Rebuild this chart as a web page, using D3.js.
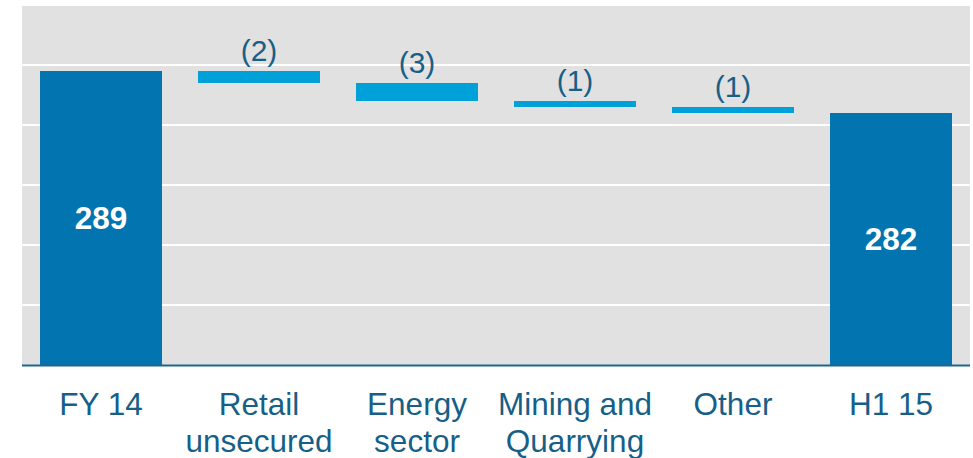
<!DOCTYPE html>
<html>
<head>
<meta charset="utf-8">
<script src="https://cdn.jsdelivr.net/npm/d3@7"></script>
<style>
  html, body { margin: 0; padding: 0; background: #fff; }
  svg { display: block; font-family: "Liberation Sans", Arial, sans-serif; }
</style>
</head>
<body>
<svg id="chart" width="973" height="458"></svg>
<script>
// ---- data ----
const categories = ["FY 14", "Retail\nunsecured", "Energy\nsector", "Mining and\nQuarrying", "Other", "H1 15"];
const kinds = ["total", "delta", "delta", "delta", "delta", "total"];
const values = [289, -2, -3, -1, -1, 282];
const yTicks = [250, 260, 270, 280, 290, 300];

// ---- layout ----
const plot = { left: 22, right: 970, top: 5, bottom: 365 };
const colors = { total: "#0274b0", delta: "#00a1d9", grid: "#ffffff", bg: "#e1e1e1", text: "#175f87", axis: "#1d6690" };

const svg = d3.select("#chart");

const x = d3.scaleBand()
  .domain(categories)
  .range([plot.left, plot.right])
  .paddingInner(0.228)
  .paddingOuter(0.114);

const y = d3.scaleLinear()
  .domain([240, 300])
  .range([plot.bottom, plot.top]);

// build waterfall segments
let running = 0;
const bars = categories.map((c, i) => {
  let lo, hi;
  if (kinds[i] === "total") {
    running = values[i];
    lo = y.domain()[0]; hi = values[i];
  } else {
    const start = running;
    running = running + values[i];
    lo = Math.min(start, running); hi = Math.max(start, running);
  }
  return { cat: c, kind: kinds[i], value: values[i], lo, hi };
});

// background
svg.append("rect")
  .attr("x", plot.left).attr("y", plot.top)
  .attr("width", plot.right - plot.left).attr("height", plot.bottom - plot.top)
  .attr("fill", colors.bg);

// gridlines
svg.append("g").selectAll("line").data(yTicks).join("line")
  .attr("x1", plot.left).attr("x2", plot.right)
  .attr("y1", d => y(d)).attr("y2", d => y(d))
  .attr("stroke", colors.grid).attr("stroke-width", 2);

// bars
svg.append("g").selectAll("rect").data(bars).join("rect")
  .attr("x", d => x(d.cat))
  .attr("width", x.bandwidth())
  .attr("y", d => y(d.hi))
  .attr("height", d => y(d.lo) - y(d.hi))
  .attr("fill", d => colors[d.kind]);

// baseline axis
const xAxis = d3.axisBottom(x).tickSize(0).tickFormat("");
const ax = svg.append("g").attr("transform", `translate(0,${plot.bottom + 0.5})`).call(xAxis);
ax.select(".domain").attr("stroke", colors.axis).attr("stroke-width", 2).attr("d", `M${plot.left},0H${plot.right}`);

// category labels
const cl = svg.append("g").selectAll("text").data(categories).join("text")
  .attr("x", d => x(d) + x.bandwidth() / 2)
  .attr("y", 415)
  .attr("text-anchor", "middle")
  .attr("fill", colors.text)
  .style("font-size", "31.5px");
cl.each(function(d) {
  const lines = d.split("\n");
  d3.select(this).selectAll("tspan").data(lines).join("tspan")
    .attr("x", x(d) + x.bandwidth() / 2)
    .attr("dy", (l, j) => j === 0 ? 0 : 37)
    .text(l => l);
});

// total value labels (inside)
svg.append("g").selectAll("text").data(bars.filter(b => b.kind === "total")).join("text")
  .attr("x", d => x(d.cat) + x.bandwidth() / 2)
  .attr("y", d => (y(d.hi) + y(d.lo)) / 2)
  .attr("dy", "0.36em")
  .attr("text-anchor", "middle")
  .attr("fill", "#ffffff")
  .style("font-size", "31.5px")
  .style("font-weight", "bold")
  .text(d => d.value);

// delta labels (above)
svg.append("g").selectAll("text").data(bars.filter(b => b.kind === "delta")).join("text")
  .attr("x", d => x(d.cat) + x.bandwidth() / 2)
  .attr("y", d => y(d.hi) - 10)
  .attr("text-anchor", "middle")
  .attr("fill", colors.text)
  .style("font-size", "30px")
  .text(d => `(${Math.abs(d.value)})`);
</script>
</body>
</html>
